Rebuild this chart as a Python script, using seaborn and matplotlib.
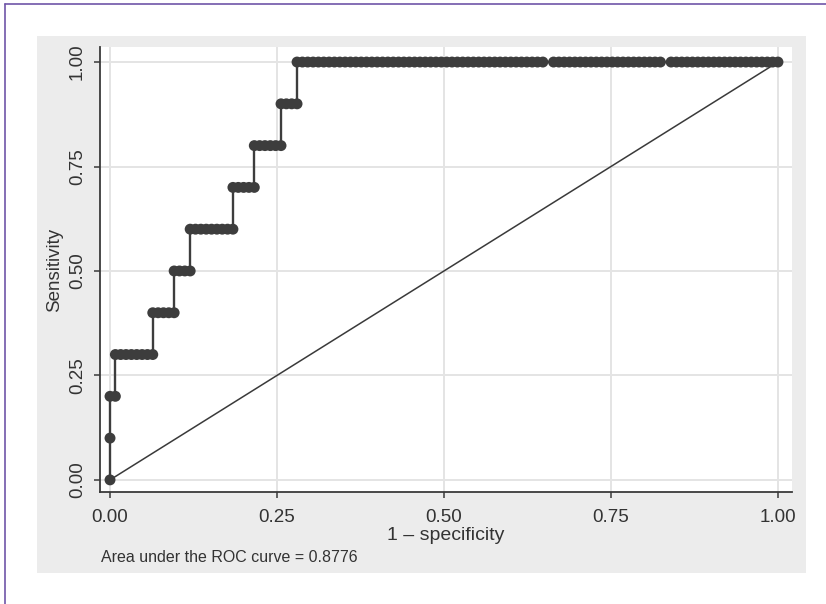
import numpy as np
import pandas as pd
import matplotlib
matplotlib.use("Agg")
import matplotlib.pyplot as plt
from matplotlib.patches import Rectangle
from matplotlib.lines import Line2D
import seaborn as sns

# ROC table: sensitivity levels and how many negatives sit on each level
sens_levels = [0.0, 0.1, 0.2, 0.3, 0.4, 0.5, 0.6, 0.7, 0.8, 0.9, 1.0]
neg_counts = [0, 0, 1, 7, 4, 3, 8, 4, 5, 3, 90]
n_neg = 125
tied_steps = [82, 104]          # tied negatives -> no separate cutoff point
ref_line = [0.0, 1.0]
auc = 0.8776

ticks = [0.0, 0.25, 0.5, 0.75, 1.0]
tick_labels = ["0.00", "0.25", "0.50", "0.75", "1.00"]

# build the cutoff points of the curve
fpr, tpr = [], []
k = 0
for s, c in zip(sens_levels, neg_counts):
    fpr.append(k / n_neg)
    tpr.append(s)
    for _ in range(c):
        k += 1
        if k in tied_steps:
            continue
        fpr.append(k / n_neg)
        tpr.append(s)
roc = pd.DataFrame({"fpr": fpr, "sens": tpr})

sns.set_theme(style="white")
plt.rcParams["font.family"] = ["Liberation Sans", "DejaVu Sans"]

fig = plt.figure(figsize=(8.26, 6.04), dpi=100)
fig.patch.set_facecolor("white")

# stata style outer grey region
fig.patches.append(Rectangle((37 / 826, 1 - 573 / 604), 769 / 826, 537 / 604,
                             transform=fig.transFigure, facecolor="#ececec",
                             edgecolor="none", zorder=-1))
# purple frame lines (top and left)
fig.add_artist(Line2D([5 / 826, 5 / 826], [0, 1 - 4 / 604], transform=fig.transFigure,
                      color="#6f55a8", lw=1.2))
fig.add_artist(Line2D([5 / 826, 1], [1 - 4 / 604, 1 - 4 / 604], transform=fig.transFigure,
                      color="#6f55a8", lw=1.2))

ax = fig.add_axes([100 / 826, 1 - 492 / 604, 692 / 826, 445 / 604])
ax.set_facecolor("white")

sns.lineplot(x=ref_line, y=ref_line, ax=ax, color="#3a3a3a", lw=1.1, zorder=2)
sns.lineplot(data=roc, x="fpr", y="sens", ax=ax, sort=False, estimator=None,
             color="#3d3d3d", lw=1.7, zorder=3)
sns.scatterplot(data=roc, x="fpr", y="sens", ax=ax, color="#3d3d3d", s=62,
                edgecolor="none", zorder=4)

ax.set_xlim(-0.015, 1.021)
ax.set_ylim(-0.029, 1.036)
ax.set_xticks(ticks)
ax.set_xticklabels(tick_labels)
ax.set_yticks(ticks)
ax.set_yticklabels(tick_labels, rotation=90, va="center")
ax.grid(True, color="#e4e4e4", lw=1.4, zorder=0)
ax.set_axisbelow(True)

for side in ["top", "right"]:
    ax.spines[side].set_visible(False)
for side in ["left", "bottom"]:
    ax.spines[side].set_color("#3a3a3a")
    ax.spines[side].set_linewidth(1.3)

ax.tick_params(axis="both", which="major", direction="out", length=4, width=1.1,
               color="#3a3a3a", labelsize=13.5, labelcolor="#333333")
ax.tick_params(axis="x", pad=8)
ax.tick_params(axis="y", pad=6)
ax.tick_params(left=True, bottom=True)

ax.set_xlabel("1 \u2013 specificity", fontsize=14, color="#333333", labelpad=1)
ax.set_ylabel("Sensitivity", fontsize=13.5, color="#333333", labelpad=4)

fig.text(101 / 826, 1 - 558 / 604, "Area under the ROC curve = %.4f" % auc,
         fontsize=11.5, color="#333333", va="center", ha="left")

fig.savefig("out.png", dpi=100)
